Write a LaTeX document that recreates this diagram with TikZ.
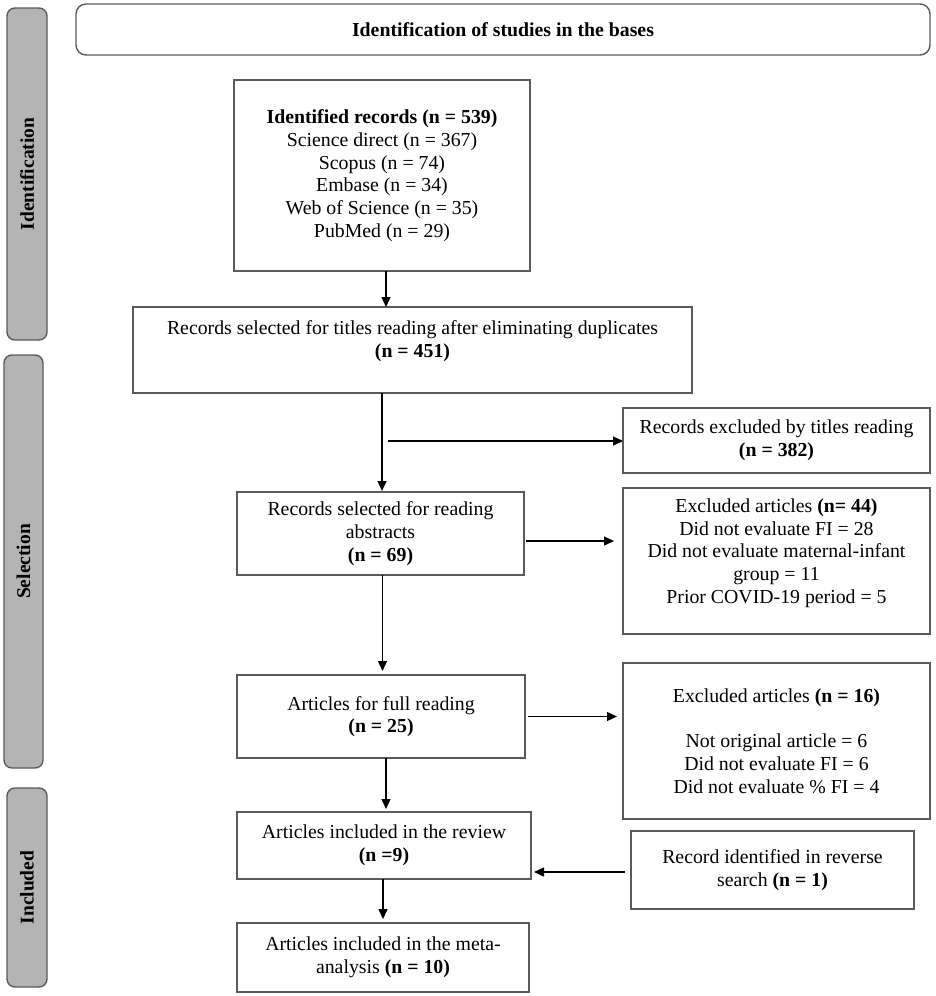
\documentclass[tikz,border=0pt]{standalone}
\usepackage{fontspec}
\setmainfont{Liberation Serif}
\usetikzlibrary{arrows.meta}
\definecolor{edgegray}{HTML}{5A5A5A}
\definecolor{barfill}{HTML}{B4B4B4}
\tikzset{
  box/.style={draw=edgegray, line width=1.4pt, fill=white, align=center, inner sep=0pt, outer sep=0pt,
    font=\fontsize{19.8}{22.7}\selectfont},
  txt/.style={align=center, inner sep=0pt, font=\fontsize{19.8}{22.7}\selectfont},
  sidebar/.style={draw=edgegray, line width=1.4pt, fill=barfill, rounded corners=8pt, inner sep=0pt, outer sep=0pt},
  sidelabel/.style={rotate=90, font=\bfseries\fontsize{19.5}{22.7}\selectfont, inner sep=0pt},
  header/.style={draw=edgegray, line width=1.4pt, rounded corners=10pt, inner sep=0pt, outer sep=0pt,
    font=\bfseries\fontsize{19.8}{22.7}\selectfont},
  arr/.style={-{Triangle[length=10pt,width=9pt]}, line width=1.4pt, black}
}
\begin{document}
\begin{tikzpicture}[x=1pt,y=-1pt]
\useasboundingbox (0,0) rectangle (935,996);

% side bars
\node[sidebar, minimum width=40, minimum height=332] (sb1) at (27,174) {};
\node[sidelabel] (sl1) at (sb1.center) {Identification};
\node[sidebar, minimum width=39, minimum height=413] (sb2) at (23.5,561.5) {};
\node[sidelabel] (sl2) at (sb2.center) {Selection};
\node[sidebar, minimum width=40, minimum height=199] (sb3) at (27,887.5) {};
\node[sidelabel] (sl3) at (sb3.center) {Included};

% header
\node[header, minimum width=854, minimum height=51] (hd) at (503,29.5) {Identification of studies in the bases};

% main column
\node[box, minimum width=296, minimum height=191] (b1) at (382,175.5)
  {\textbf{Identified records (n = 539)}\\Science direct (n = 367)\\Scopus (n = 74)\\Embase (n = 34)\\Web of Science (n = 35)\\PubMed (n = 29)};
\node[box, minimum width=559, minimum height=86] (b2) at (412.5,350) {};
\node[txt] (b2t) at (412.5,341) {Records selected for titles reading after eliminating duplicates\\\textbf{(n = 451)}};
\node[box, minimum width=287, minimum height=83] (b3) at (380.5,533.5)
  {Records selected for reading\\abstracts\\\textbf{(n = 69)}};
\node[box, minimum width=288, minimum height=83] (b4) at (381,716.5)
  {Articles for full reading\\\textbf{(n = 25)}};
\node[box, minimum width=294, minimum height=67] (b5) at (384,845.5)
  {Articles included in the review\\\textbf{(n =9)}};
\node[box, minimum width=292, minimum height=69] (b6) at (383,957.5)
  {Articles included in the meta-\\analysis \textbf{(n = 10)}};

% right column
\node[box, minimum width=307, minimum height=65] (r1) at (776.5,440.5)
  {Records excluded by titles reading\\\textbf{(n = 382)}};
\node[box, minimum width=307, minimum height=146] (r2) at (776.5,561) {};
\node[txt] (r2t) at (776.5,553)
  {Excluded articles \textbf{(n= 44)}\\Did not evaluate FI = 28\\Did not evaluate maternal-infant\\group = 11\\Prior COVID-19 period = 5};
\node[box, minimum width=307, minimum height=156] (r3) at (776.5,741)
  {Excluded articles \textbf{(n = 16)}\\[22.7pt]Not original article = 6\\Did not evaluate FI = 6\\Did not evaluate \% FI = 4};
\node[box, minimum width=283, minimum height=78] (r4) at (772.5,870)
  {Record identified in reverse\\search \textbf{(n = 1)}};

% connectors
\draw[arr] ([xshift=4]b1.south) -- ([xshift=4]b1.south |- b2.north);
\draw[arr, shorten >=1pt] ([xshift=1.5]b3.north |- b2.south) -- ([xshift=1.5]b3.north);
\coordinate (br) at (388,441);
\draw[arr] (br) -- (br -| r1.west);
\draw[arr, shorten <=2pt, shorten >=9pt] ([yshift=-7.5]b3.east) -- ([yshift=-7.5]b3.east -| r2.west);
\draw[arr, shorten >=4pt] ([xshift=1.5]b4.north |- b3.south) -- ([xshift=1.5]b4.north);
\draw[arr, shorten <=3pt, shorten >=6pt] (b4.east) -- (b4.east -| r3.west);
\draw[arr, shorten >=3pt] ([xshift=2]b5.north |- b4.south) -- ([xshift=2]b5.north);
\draw[arr, shorten <=6pt, shorten >=3pt] ([yshift=-2]r4.west) -- ([yshift=-2]r4.west -| b5.east);
\draw[arr, shorten >=4pt] (b6.north |- b5.south) -- (b6.north);
\end{tikzpicture}
\end{document}
